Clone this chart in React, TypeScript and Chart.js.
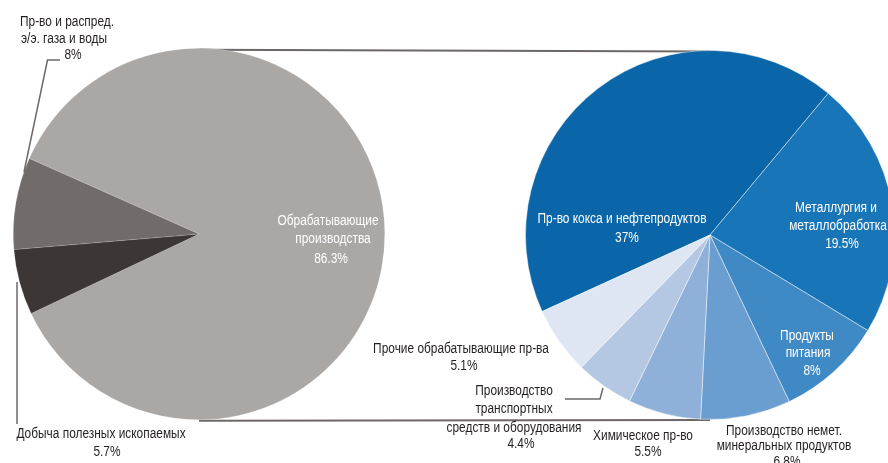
import React, { useEffect, useRef } from "react";
import { Chart, registerables } from "chart.js";

Chart.register(...registerables);

// ---- data ----
const sectorLabels = [
  "Обрабатывающие производства",
  "Добыча полезных ископаемых",
  "Пр-во и распред. э/э. газа и воды",
];
const sectorValues = [86.3, 5.7, 8];
const sectorColors = ["#aba7a5", "#3c3635", "#716b69"];
const sectorLabelLines = [
  ["Обрабатывающие", "производства"],
  ["Добыча полезных ископаемых"],
  ["Пр-во и распред.", "э/э. газа и воды"],
];

const manufLabels = [
  "Пр-во кокса и нефтепродуктов",
  "Металлургия и металлобработка",
  "Продукты питания",
  "Производство немет. минеральных продуктов",
  "Химическое пр-во",
  "Производство транспортных средств и оборудования",
  "Прочие обрабатывающие пр-ва",
];
const manufValues = [37, 19.5, 8, 6.8, 5.5, 4.4, 5.1];
const manufColors = ["#0a66a8", "#1775b8", "#3f89c5", "#6a9dd0", "#8fb0d8", "#b4c8e4", "#dde6f2"];
const manufLabelLines = [
  ["Пр-во кокса и нефтепродуктов"],
  ["Металлургия и", "металлобработка"],
  ["Продукты", "питания"],
  ["Производство немет.", "минеральных продуктов"],
  ["Химическое пр-во"],
  ["Производство", "транспортных", "средств и оборудования"],
  ["Прочие обрабатывающие пр-ва"],
];

// ---- layout (label line centres, leader lines) ----
const FONT = '"Liberation Sans", Arial, sans-serif';
const NARROW = 0.85;
const DARK = "#231f20";
const LINE = "#6d6867";

const sectorLabelPos: number[][][] = [
  [[328, 221], [333, 239], [331, 259]],
  [[101, 434], [107, 452]],
  [[67, 22], [64, 39], [73, 55]],
];
const sectorLabelWhite = [true, false, false];
const manufLabelPos: number[][][] = [
  [[622, 219], [627, 238]],
  [[836, 208], [838, 226], [842, 244]],
  [[807, 336], [808, 353], [812, 371]],
  [[784, 431], [784, 446], [787, 462]],
  [[643, 436], [648, 452]],
  [[514, 391], [514, 409], [514, 428], [521, 444]],
  [[461, 349], [464, 366]],
];
const manufLabelWhite = [true, true, true, false, false, false, false];

const leaders: number[][][] = [
  [[60, 60], [47.5, 60], [24, 172]],
  [[17, 282], [17, 424]],
  [[565, 399], [600, 399], [603, 388]],
];

function drawLabels(ctx: CanvasRenderingContext2D, lines: string[][], values: number[], pos: number[][][], white: boolean[]) {
  lines.forEach((ls, i) => {
    const all = [...ls, `${values[i]}%`];
    ctx.fillStyle = white[i] ? "#ffffff" : DARK;
    all.forEach((t, j) => {
      const p = pos[i][j];
      if (!p) return;
      ctx.save();
      ctx.translate(p[0], p[1]);
      ctx.scale(NARROW, 1);
      ctx.fillText(t, 0, 0);
      ctx.restore();
    });
  });
}

export default function App() {
  const leftRef = useRef<HTMLCanvasElement>(null);
  const rightRef = useRef<HTMLCanvasElement>(null);

  useEffect(() => {
    document.body.style.margin = "0";
    const rightChart = new Chart(rightRef.current as HTMLCanvasElement, {
      type: "pie",
      data: {
        labels: manufLabels,
        datasets: [
          {
            data: manufValues,
            backgroundColor: manufColors,
            borderColor: "rgba(255,255,255,0.45)",
            borderWidth: 1,
          },
        ],
      },
      options: {
        responsive: false,
        animation: false,
        events: [],
        rotation: 245.5,
        layout: { padding: { left: 525, right: 5, top: 50, bottom: 43 } },
        plugins: { legend: { display: false }, tooltip: { enabled: false } },
      },
      plugins: [
        {
          id: "labels",
          afterDraw(chart: any) {
            const ctx = chart.ctx as CanvasRenderingContext2D;
            ctx.save();
            ctx.strokeStyle = LINE;
            ctx.lineWidth = 1.5;
            leaders.forEach((pts) => {
              ctx.beginPath();
              pts.forEach((p, k) => (k === 0 ? ctx.moveTo(p[0], p[1]) : ctx.lineTo(p[0], p[1])));
              ctx.stroke();
            });
            ctx.font = `14px ${FONT}`;
            ctx.textAlign = "center";
            ctx.textBaseline = "middle";
            drawLabels(ctx, sectorLabelLines, sectorValues, sectorLabelPos, sectorLabelWhite);
            drawLabels(ctx, manufLabelLines, manufValues, manufLabelPos, manufLabelWhite);
            ctx.restore();
          },
        },
      ],
    } as any);

    const leftChart = new Chart(leftRef.current as HTMLCanvasElement, {
      type: "pie",
      data: {
        labels: sectorLabels,
        datasets: [
          {
            data: sectorValues,
            backgroundColor: sectorColors,
            borderColor: "rgba(255,255,255,0.3)",
            borderWidth: 0.5,
          },
        ],
      },
      options: {
        responsive: false,
        animation: false,
        events: [],
        rotation: 294,
        layout: { padding: { left: 13, right: 515, top: 48, bottom: 43 } },
        plugins: { legend: { display: false }, tooltip: { enabled: false } },
      },
      plugins: [
        {
          id: "connectors",
          beforeDatasetsDraw(chart: any) {
            const a: any = chart.getDatasetMeta(0).data[0];
            const b: any = rightChart.getDatasetMeta(0).data[0];
            if (!a || !b) return;
            const ctx = chart.ctx as CanvasRenderingContext2D;
            ctx.save();
            ctx.strokeStyle = LINE;
            ctx.lineWidth = 2;
            ctx.beginPath();
            ctx.moveTo(a.x, a.y - a.outerRadius + 1.5);
            ctx.lineTo(b.x, b.y - b.outerRadius + 1);
            ctx.moveTo(a.x, a.y + a.outerRadius + 1);
            ctx.lineTo(b.x, b.y + b.outerRadius + 0.5);
            ctx.stroke();
            ctx.restore();
          },
        },
      ],
    } as any);

    return () => {
      leftChart.destroy();
      rightChart.destroy();
    };
  }, []);

  const canvasStyle: React.CSSProperties = { position: "absolute", left: 0, top: 0 };
  return (
    <div
      style={{
        position: "absolute",
        left: 0,
        top: 0,
        width: 888,
        height: 463,
        overflow: "hidden",
        background: "#ffffff",
      }}
    >
      <canvas ref={leftRef} width={900} height={463} style={canvasStyle} />
      <canvas ref={rightRef} width={900} height={463} style={canvasStyle} />
    </div>
  );
}
